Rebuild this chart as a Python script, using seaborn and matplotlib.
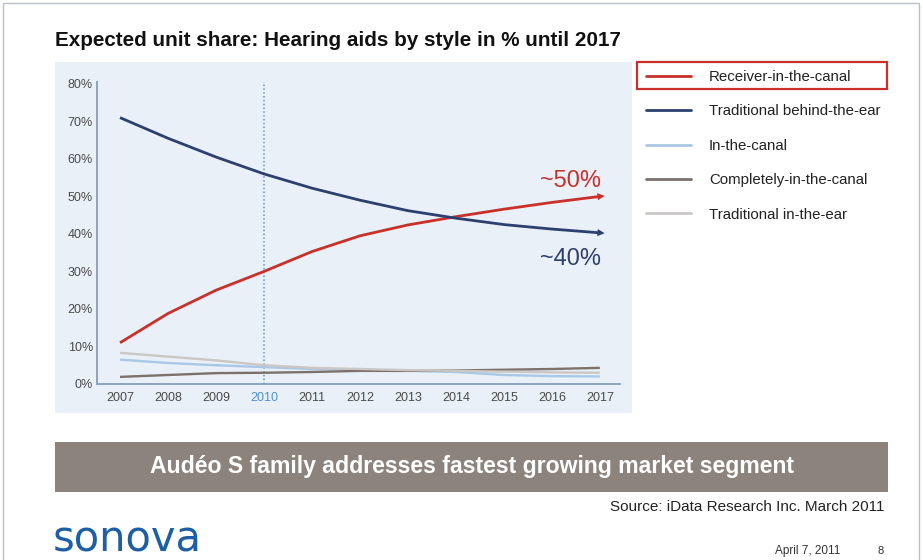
import matplotlib
matplotlib.use("Agg")
import matplotlib.pyplot as plt
from matplotlib.patches import Rectangle
from matplotlib.lines import Line2D
import pandas as pd
import seaborn as sns

# Unit share of hearing aids by style (%), 2007-2017
years = list(range(2007, 2018))
ric = [11.0, 18.8, 25.0, 30.0, 35.3, 39.5, 42.4, 44.6, 46.6, 48.4, 50.0]
bte = [71.0, 65.5, 60.5, 56.0, 52.2, 49.0, 46.2, 44.2, 42.5, 41.3, 40.3]
itc = [6.5, 5.6, 5.0, 4.5, 4.0, 3.8, 3.5, 3.2, 2.4, 2.1, 2.0]
cic = [1.9, 2.4, 2.9, 3.0, 3.2, 3.5, 3.5, 3.6, 3.8, 4.0, 4.3]
ite = [8.3, 7.3, 6.3, 5.0, 4.3, 4.0, 3.7, 3.5, 3.3, 3.1, 3.0]

styles = ["Receiver-in-the-canal", "Traditional behind-the-ear", "In-the-canal",
          "Completely-in-the-canal", "Traditional in-the-ear"]
series = [ric, bte, itc, cic, ite]
colors = ["#c9302a", "#2d3f6e", "#a9c8e6", "#7c716b", "#cac7c4"]
widths = [2.0, 2.0, 1.7, 1.7, 1.7]

y_ticks = [0, 10, 20, 30, 40, 50, 60, 70, 80]
y_tick_labels = [f"{v}%" for v in y_ticks]
x_tick_labels = [str(y) for y in years]
highlight_year = 2010

df = pd.DataFrame(
    [(yr, name, val) for name, vals in zip(styles, series) for yr, val in zip(years, vals)],
    columns=["year", "style", "share"],
)

sns.set_style("white")
plt.rcParams["font.family"] = ["Liberation Sans", "DejaVu Sans"]

W, H = 923, 560
fig = plt.figure(figsize=(W / 100, H / 100), dpi=100)
fig.patch.set_facecolor("white")

def fx(px):
    return px / W

def fy(py):
    return 1 - py / H

# slide frame
fig.add_artist(Rectangle((fx(3), fy(575)), fx(916), 572 / H, transform=fig.transFigure,
                         fill=False, ec="#b9bec8", lw=1.0))

# light panel behind the chart
fig.add_artist(Rectangle((fx(55), fy(413)), fx(632 - 55), (413 - 62) / H,
                         transform=fig.transFigure, fc="#eaf0f7", ec="none", zorder=0))

ax = fig.add_axes([fx(97), fy(384), fx(620 - 97), (384 - 82) / H])
ax.set_facecolor("none")

sns.lineplot(data=df, x="year", y="share", hue="style", hue_order=styles,
             palette=colors, legend=False, ax=ax, sort=False)
for line, lw in zip(ax.get_lines(), widths):
    line.set_linewidth(lw)
    line.set_solid_capstyle("butt")

# arrow tips on the two main series
for vals, col in [(ric, colors[0]), (bte, colors[1])]:
    ax.annotate("", xy=(years[-1] + 0.1, vals[-1] + (vals[-1] - vals[-2]) * 0.1),
                xytext=(years[-1] - 0.2, vals[-1] - (vals[-1] - vals[-2]) * 0.2),
                arrowprops=dict(arrowstyle="-|>", color=col, lw=0, mutation_scale=13,
                                shrinkA=0, shrinkB=0))

ax.axvline(highlight_year, color="#5d97cf", lw=1.1, ls=(0, (1, 1.5)), zorder=1)

ax.set_xlim(2006.52, 2017.42)
ax.set_ylim(0, 80.5)
ax.set_xticks(years)
ax.set_xticklabels(x_tick_labels)
ax.set_yticks(y_ticks)
ax.set_yticklabels(y_tick_labels)
ax.set_xlabel("")
ax.set_ylabel("")
ax.tick_params(axis="both", length=0, labelsize=9, labelcolor="#4a4a4a")
ax.tick_params(axis="y", pad=3)
ax.tick_params(axis="x", pad=6)
for lbl in ax.get_xticklabels():
    if lbl.get_text() == str(highlight_year):
        lbl.set_color("#4d8fcf")
for side in ["top", "right"]:
    ax.spines[side].set_visible(False)
for side in ["left", "bottom"]:
    ax.spines[side].set_color("#8da2c0")
    ax.spines[side].set_linewidth(1.4)

ax.text(2016.38, 54.0, "~50%", color="#c9302a", fontsize=17, ha="center", va="center")
ax.text(2016.38, 33.4, "~40%", color="#2d3f6e", fontsize=17, ha="center", va="center")

handles = [Line2D([], [], color=c, lw=2.0) for c in colors]
fig.legend(handles, styles, loc="upper left", bbox_to_anchor=(fx(640), fy(64)),
           frameon=False, fontsize=10.8, handlelength=3.0, handletextpad=1.2,
           labelspacing=1.36, borderaxespad=0, borderpad=0.4, labelcolor="#222222")
fig.add_artist(Rectangle((fx(637), fy(89)), fx(250), 27 / H, transform=fig.transFigure,
                         fill=False, ec="#c9302a", lw=1.6))

fig.text(fx(55), fy(40), "Expected unit share: Hearing aids by style in % until 2017",
         fontsize=14.9, fontweight="bold", color="#111111", ha="left", va="center")

fig.add_artist(Rectangle((fx(55), fy(492)), fx(888 - 55), 50 / H, transform=fig.transFigure,
                         fc="#8b837c", ec="none"))
fig.text(fx(472), fy(467), "Audéo S family addresses fastest growing market segment",
         fontsize=16.6, fontweight="bold", color="white", ha="center", va="center")
fig.text(fx(885), fy(507), "Source: iData Research Inc. March 2011", fontsize=11,
         color="#222222", ha="right", va="center")
fig.text(fx(53), fy(552), "sonova", fontsize=30, color="#1d5fa6", ha="left",
         va="baseline", family="DejaVu Sans")
fig.text(fx(775), fy(551), "April 7, 2011", fontsize=8.5, color="#333333", ha="left", va="center")
fig.text(fx(881), fy(551), "8", fontsize=8, color="#333333", ha="center", va="center")

fig.savefig("out.png", dpi=100)
